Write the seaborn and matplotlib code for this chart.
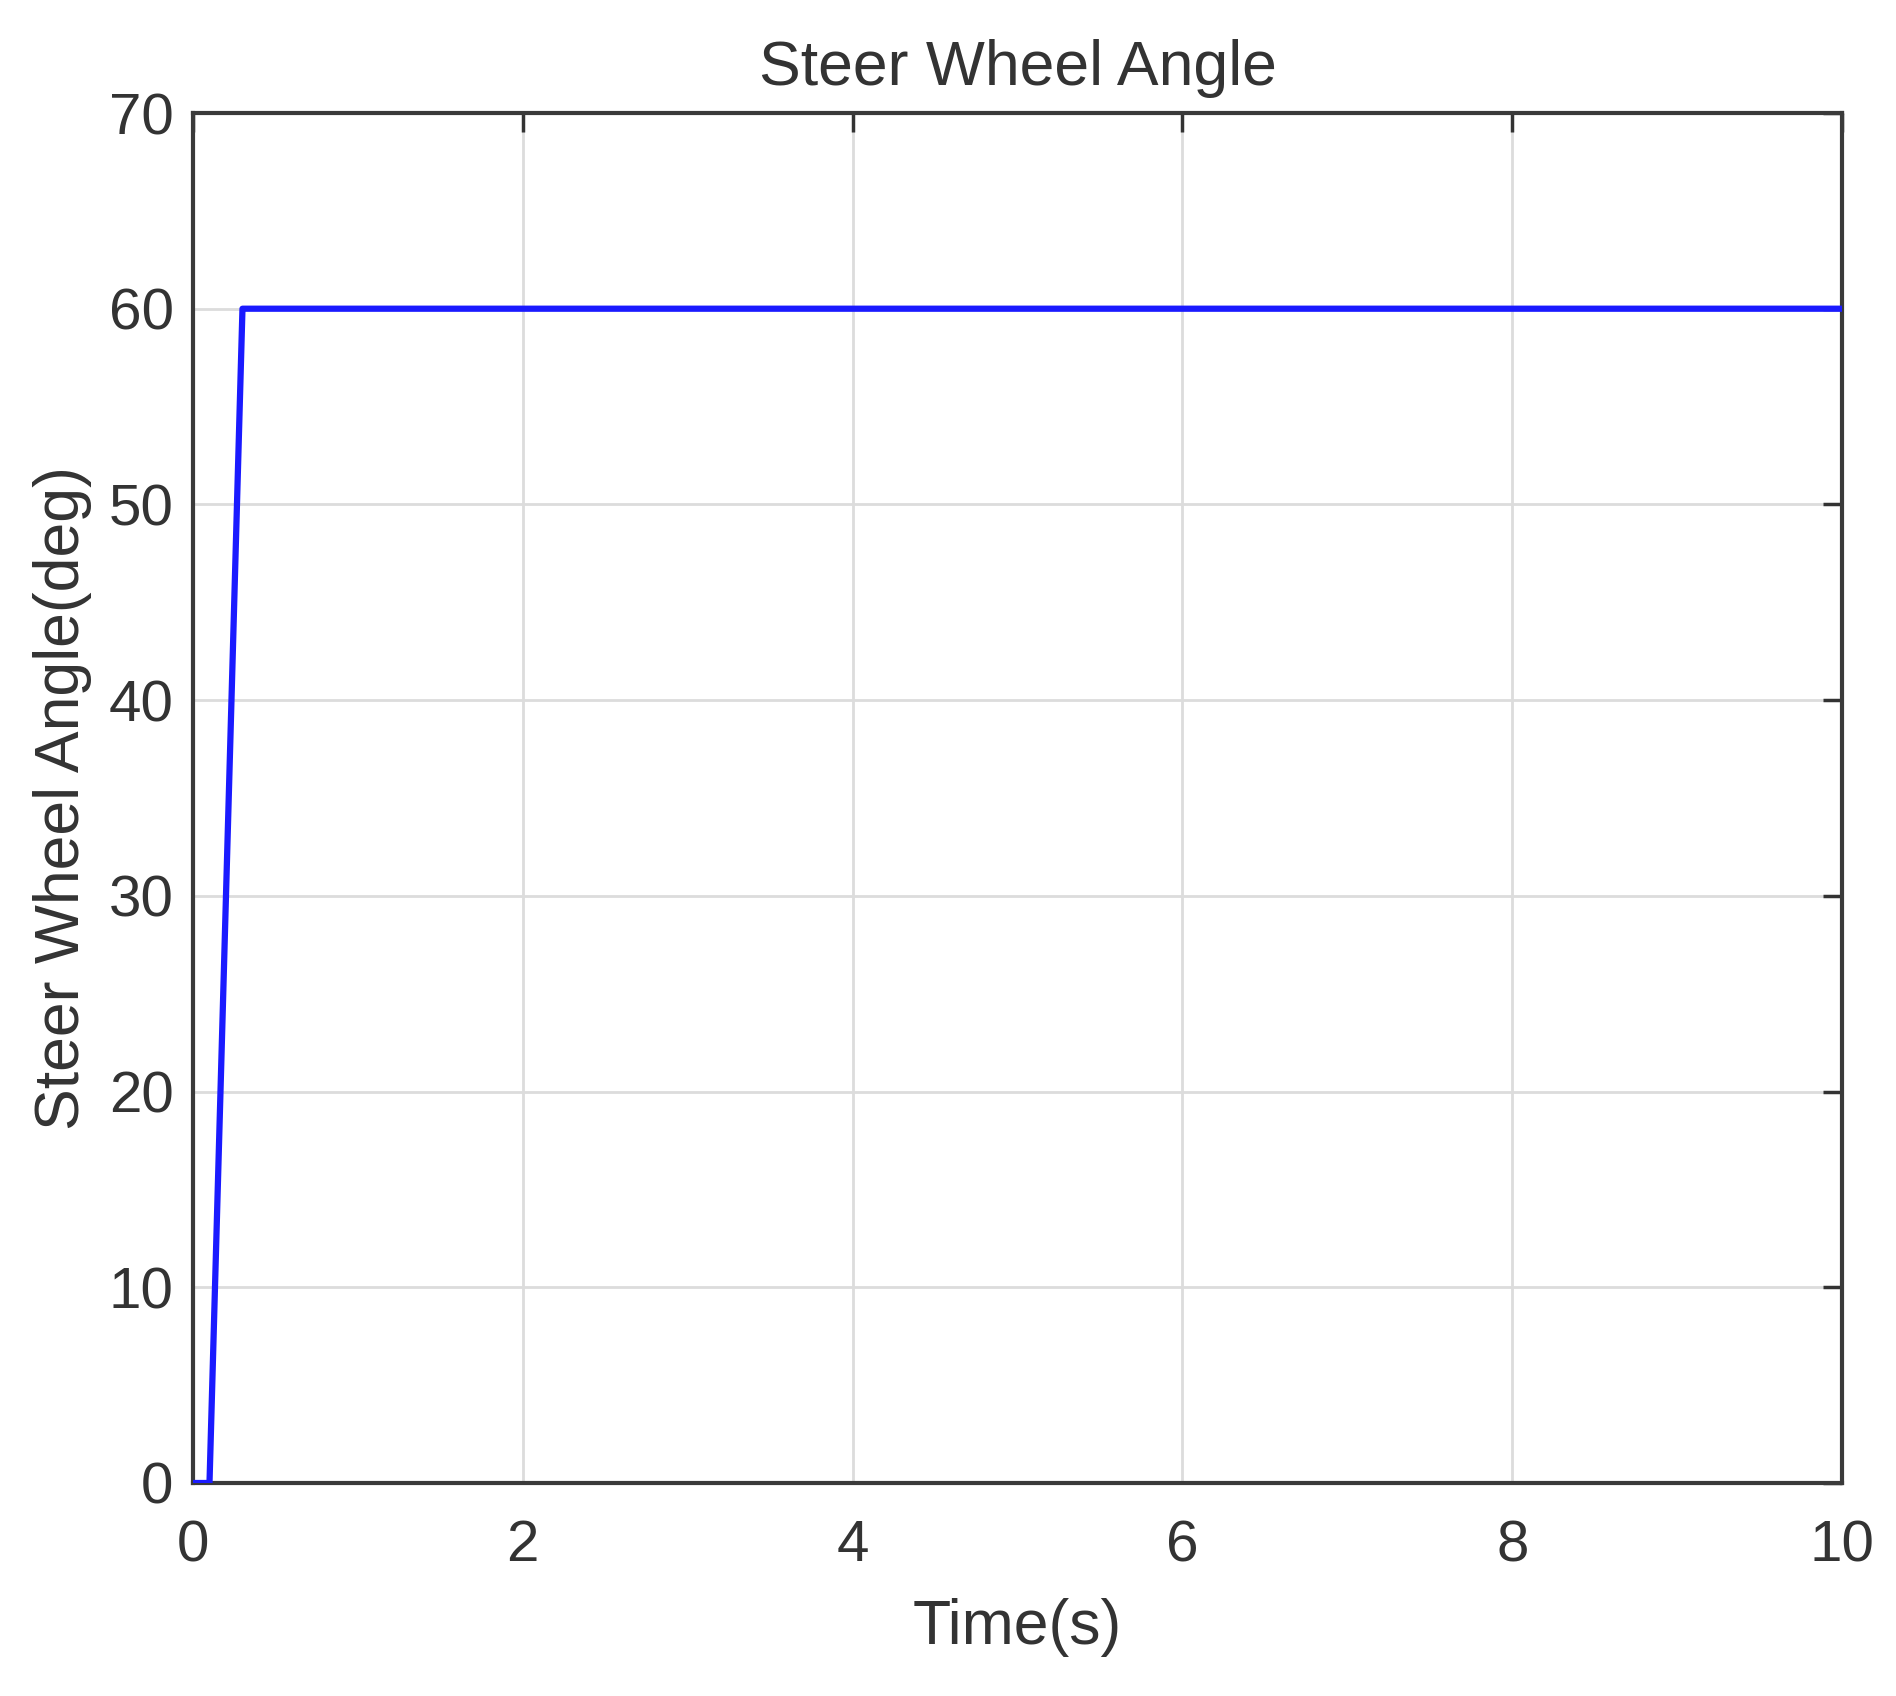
import matplotlib
matplotlib.use("Agg")
import matplotlib.pyplot as plt
import seaborn as sns
import pandas as pd

# Data
time_s = [0.0, 0.1, 0.3, 10.0]
angle_deg = [0.0, 0.0, 60.0, 60.0]
x_ticks = [0, 2, 4, 6, 8, 10]
y_ticks = [0, 10, 20, 30, 40, 50, 60, 70]
title = "Steer Wheel Angle"
xlabel = "Time(s)"
ylabel = "Steer Wheel Angle(deg)"

sns.set_style("white")
plt.rcParams['font.family'] = ['Liberation Sans', 'DejaVu Sans']

df = pd.DataFrame({"t": time_s, "a": angle_deg})

fig = plt.figure(figsize=(18.96, 16.96), dpi=100)
ax = fig.add_axes([193/1896, 1 - 1483/1696, (1842-193)/1896, (1483-113)/1696])

ax.grid(True, color="#dcdcdc", linewidth=2.0)
ax.set_axisbelow(True)
sns.lineplot(data=df, x="t", y="a", ax=ax, color="#1a1aff", linewidth=4.5, zorder=3)

ax.set_xlim(0, 10)
ax.set_ylim(0, 70)
ax.set_xticks(x_ticks)
ax.set_yticks(y_ticks)
ax.set_xticklabels([str(v) for v in x_ticks])
ax.set_yticklabels([str(v) for v in y_ticks])

txtc = "#333333"
ax.tick_params(axis="both", direction="in", length=14, width=2.5, color="#333333",
               labelsize=42, labelcolor=txtc, top=True, right=True)
ax.tick_params(axis="x", pad=26)
ax.tick_params(axis="y", pad=14)
for s in ax.spines.values():
    s.set_visible(True)
    s.set_color("#3a3a3a")
    s.set_linewidth(3.0)

ax.set_title(title, fontsize=45, color=txtc, pad=20)
ax.set_xlabel(xlabel, fontsize=45, color=txtc, labelpad=18)
ax.set_ylabel(ylabel, fontsize=45, color=txtc, labelpad=12)

fig.savefig("out.png", dpi=100, facecolor="white")
